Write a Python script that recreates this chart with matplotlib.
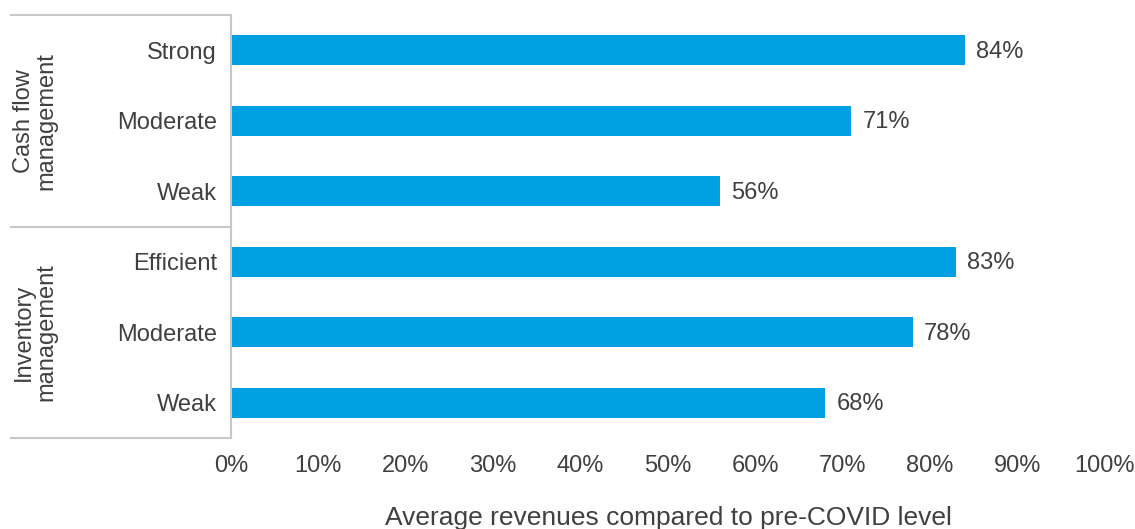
import numpy as np
import matplotlib.pyplot as plt
from matplotlib.ticker import PercentFormatter

plt.rcParams['font.family'] = ['Liberation Sans', 'DejaVu Sans']

categories = ['Strong', 'Moderate', 'Weak', 'Efficient', 'Moderate', 'Weak']
values = [84, 71, 56, 83, 78, 68]
groups = ['Cash flow\nmanagement', 'Inventory\nmanagement']
xticks = [0, 10, 20, 30, 40, 50, 60, 70, 80, 90, 100]

bar_color = '#00A0E3'
text_color = '#404040'
line_color = '#C8C8C8'
fs = 17

fig = plt.figure(figsize=(11.35, 5.29), dpi=100)
ax = fig.add_axes([0.2035, 0.172, 0.7700, 0.7996])

y = np.arange(len(categories))
bars = ax.barh(y, values, height=0.43, color=bar_color)

for b, v in zip(bars, values):
    ax.annotate(f'{v}%', (b.get_width(), b.get_y() + b.get_height() / 2),
                xytext=(8, -1), textcoords='offset points',
                va='center', ha='left', fontsize=fs, color=text_color)

ax.set_xlim(0, 100)
ax.set_ylim(len(categories) - 0.5, -0.5)
ax.set_yticks(y)
ax.set_yticklabels(categories)
ax.set_xticks(xticks)
ax.xaxis.set_major_formatter(PercentFormatter(decimals=0))
ax.tick_params(axis='y', length=0, pad=10, labelsize=fs, labelcolor=text_color)
ax.tick_params(axis='x', length=0, pad=12, labelsize=fs, labelcolor=text_color)

for s in ['top', 'right', 'bottom']:
    ax.spines[s].set_visible(False)
ax.spines['left'].set_color(line_color)
ax.spines['left'].set_linewidth(1.5)

# group separators left of the category labels
tr = ax.get_yaxis_transform()
for yy in [-0.5, 2.5, 5.5]:
    ax.plot([-0.252, 0], [yy, yy], transform=tr, color=line_color,
            lw=1.5, clip_on=False)

for i, g in enumerate(groups):
    ax.text(-0.224, 1 + 3 * i, g, transform=tr, rotation=90,
            ha='center', va='center', multialignment='center',
            fontsize=fs, color=text_color, linespacing=1.0)

ax.text(0.5, -0.19, 'Average revenues compared to pre-COVID level',
        transform=ax.transAxes, ha='center', va='center',
        fontsize=19, color=text_color)

fig.savefig('out.png', dpi=100)
